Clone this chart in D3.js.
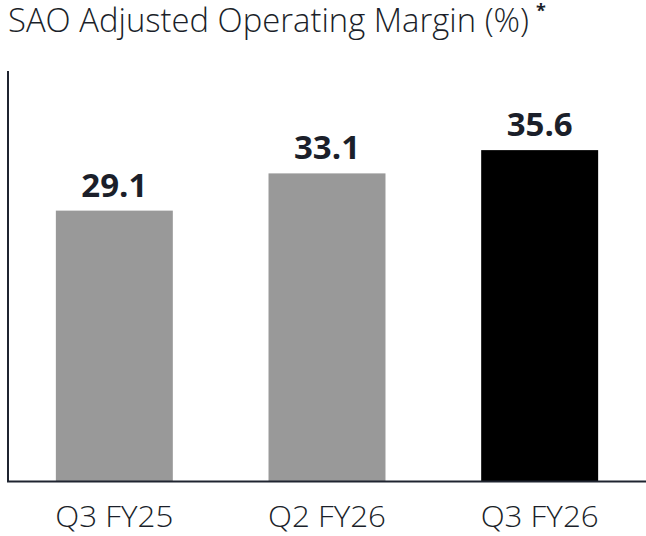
<!DOCTYPE html>
<html>
<head>
<meta charset="utf-8">
<script src="https://cdn.jsdelivr.net/npm/d3@7"></script>
<style>
  body { margin: 0; background: #fff; }
  text { font-family: "Open Sans", sans-serif; fill: #1b1f2a; }
</style>
</head>
<body>
<div id="chart"></div>
<script>
// chart data
const categories = ["Q3 FY25", "Q2 FY26", "Q3 FY26"];
const values = [29.1, 33.1, 35.6];
const barColors = ["#999999", "#999999", "#000000"];
const title = "SAO Adjusted Operating Margin (%)";

const W = 646, H = 536;
const margin = { top: 71, right: 0, bottom: 54.5, left: 8 };

const svg = d3.select("#chart")
    .append("svg")
    .attr("width", W)
    .attr("height", H);

// Title
svg.append("text")
    .attr("x", 8)
    .attr("y", 32)
    .attr("font-size", 33)
    .attr("font-weight", 300)
    .attr("textLength", 521)
    .attr("lengthAdjust", "spacingAndGlyphs")
    .text(title);
svg.append("text")
    .attr("x", 536)
    .attr("y", 17)
    .attr("font-size", 18)
    .attr("font-weight", 700)
    .text("*");

const x = d3.scaleBand()
    .domain(categories)
    .range([margin.left, W - margin.right])
    .paddingInner(0.45)
    .paddingOuter(0.225);

const y = d3.scaleLinear()
    .domain([0, 44.1])
    .range([H - margin.bottom, margin.top]);

// bars
svg.selectAll(".bar")
    .data(values)
    .enter().append("rect")
    .attr("class", "bar")
    .attr("x", (d, i) => x(categories[i]))
    .attr("width", x.bandwidth())
    .attr("y", d => y(d))
    .attr("height", d => y(0) - y(d))
    .attr("fill", (d, i) => barColors[i]);

// value labels
svg.selectAll(".val")
    .data(values)
    .enter().append("text")
    .attr("class", "val")
    .attr("x", (d, i) => x(categories[i]) + x.bandwidth() / 2)
    .attr("y", d => y(d) - 14)
    .attr("text-anchor", "middle")
    .attr("font-size", 33)
    .attr("font-weight", 700)
    .text(d => d.toFixed(1));

// axes lines
svg.append("line")
    .attr("x1", margin.left).attr("x2", margin.left)
    .attr("y1", margin.top).attr("y2", y(0))
    .attr("stroke", "#1f2430")
    .attr("stroke-width", 2);
svg.append("line")
    .attr("x1", margin.left - 1).attr("x2", W)
    .attr("y1", y(0)).attr("y2", y(0))
    .attr("stroke", "#1f2430")
    .attr("stroke-width", 2);

// category labels
svg.selectAll(".cat")
    .data(categories)
    .enter().append("text")
    .attr("class", "cat")
    .attr("x", d => x(d) + x.bandwidth() / 2)
    .attr("y", 527)
    .attr("text-anchor", "middle")
    .attr("font-size", 30)
    .attr("font-weight", 300)
    .attr("textLength", 118)
    .attr("lengthAdjust", "spacingAndGlyphs")
    .text(d => d);
</script>
</body>
</html>
